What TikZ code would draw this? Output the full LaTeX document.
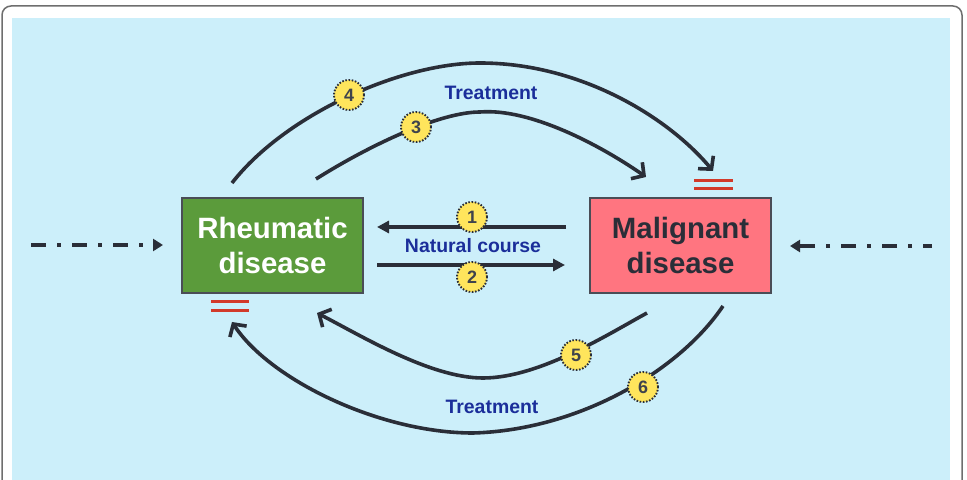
\documentclass[tikz,border=0pt]{standalone}
\usepackage{fontspec}
\setmainfont{Liberation Sans}
\usetikzlibrary{arrows.meta}
\definecolor{bgblue}{RGB}{204,239,250}
\definecolor{rgreen}{RGB}{91,155,59}
\definecolor{mpink}{RGB}{255,117,128}
\definecolor{ink}{RGB}{42,46,56}
\definecolor{tblue}{RGB}{27,46,154}
\definecolor{numyel}{RGB}{255,229,92}
\definecolor{eqred}{RGB}{210,58,42}
\definecolor{frame}{RGB}{110,110,110}
\tikzset{
  disbox/.style={draw=ink!85, line width=1.4bp, minimum width=181bp, minimum height=95bp, align=center, inner sep=0pt},
  bigtext/.style={font=\fontsize{29.5}{36}\selectfont\bfseries},
  numc/.style={circle, fill=numyel, draw=ink, line width=1.9bp, dash pattern=on 1.6bp off 1.6bp, minimum size=30bp, inner sep=0pt, font=\fontsize{18}{18}\selectfont\bfseries, text=ink!90},
  lbl/.style={text=tblue, font=\fontsize{19.5}{20}\selectfont\bfseries},
  curvearrow/.style={draw=ink, line width=3.6bp, -{Straight Barb[length=9bp,width=20bp]}},
  straightarrow/.style={draw=ink, line width=3.6bp, -{Triangle[length=12bp,width=12bp]}},
  dasharrow/.style={draw=ink, line width=4bp, dash pattern=on 15bp off 11bp on 4bp off 11bp, -{Triangle[length=10bp,width=12bp]}},
  eqline/.style={draw=eqred, line width=3bp}
}
\begin{document}
\begin{tikzpicture}[x=1bp,y=-1bp]
\useasboundingbox (0,0) rectangle (967,480);
\clip (0,0) rectangle (967,480);
% frame and background
\draw[frame, line width=1.5bp, rounded corners=9bp] (2,6) rectangle (962,520);
\fill[bgblue] (12,18) rectangle (950,480);

% boxes
\node[disbox, fill=rgreen, bigtext, text=white] (rd) at (272.5,245.5) {Rheumatic\\disease};
\node[disbox, fill=mpink, bigtext, text=ink] (md) at (680.5,245.5) {Malignant\\disease};

% coordinates
\coordinate (s4) at (232,183); \coordinate (p4) at (480,63); \coordinate (e4) at (713,171);
\coordinate (s3) at (316,179); \coordinate (p3) at (480,112); \coordinate (e3) at (646,177);
\coordinate (s5) at (647,313); \coordinate (p5) at (483,378); \coordinate (e5) at (317,313);
\coordinate (s6) at (723,306); \coordinate (p6) at (473,433); \coordinate (e6) at (232,322);
\coordinate (a1s) at (566,227); \coordinate (a1e) at (377,227);
\coordinate (a2s) at (377,265); \coordinate (a2e) at (565,265);
\coordinate (dls) at (31,245); \coordinate (dle) at (163,245);
\coordinate (drs) at (932,246); \coordinate (dre) at (790,246);

% curved arrows
\draw[curvearrow] (s4) .. controls (285,115) and (400,63) .. (p4) .. controls (580,63) and (668,117) .. (e4);
\draw[curvearrow] (s3) .. controls (370,145) and (440,112) .. (p3) .. controls (530,108) and (600,145) .. (e3);
\draw[curvearrow] (s5) .. controls (610,333) and (540,378) .. (p5) .. controls (430,378) and (360,335) .. (e5);
\draw[curvearrow] (s6) .. controls (680,370) and (580,430) .. (p6) .. controls (380,433) and (270,380) .. (e6);

% straight arrows
\draw[straightarrow] (a1s) -- (a1e);
\draw[straightarrow] (a2s) -- (a2e);

% dash-dot arrows
\draw[dasharrow, dash phase=0bp] (dls) -- (dle);
\draw[dasharrow, dash phase=6bp] (drs) -- (dre);

% red equal signs
\draw[eqline] (694,181) -- (733,181) (694,189) -- (733,189);
\draw[eqline] (211,302) -- (249,302) (211,311) -- (249,311);

% labels
\node[lbl] (t1) at (491,93) {Treatment};
\node[lbl] (t2) at (492,407) {Treatment};
\node[lbl] (nc) at (473,246) {Natural course};

% number circles
\node[numc] (n1) at (472,217) {1};
\node[numc] (n2) at (472,277) {2};
\node[numc] (n3) at (416,127) {3};
\node[numc] (n4) at (349,95) {4};
\node[numc] (n5) at (576,355) {5};
\node[numc] (n6) at (643,387) {6};
\end{tikzpicture}
\end{document}
